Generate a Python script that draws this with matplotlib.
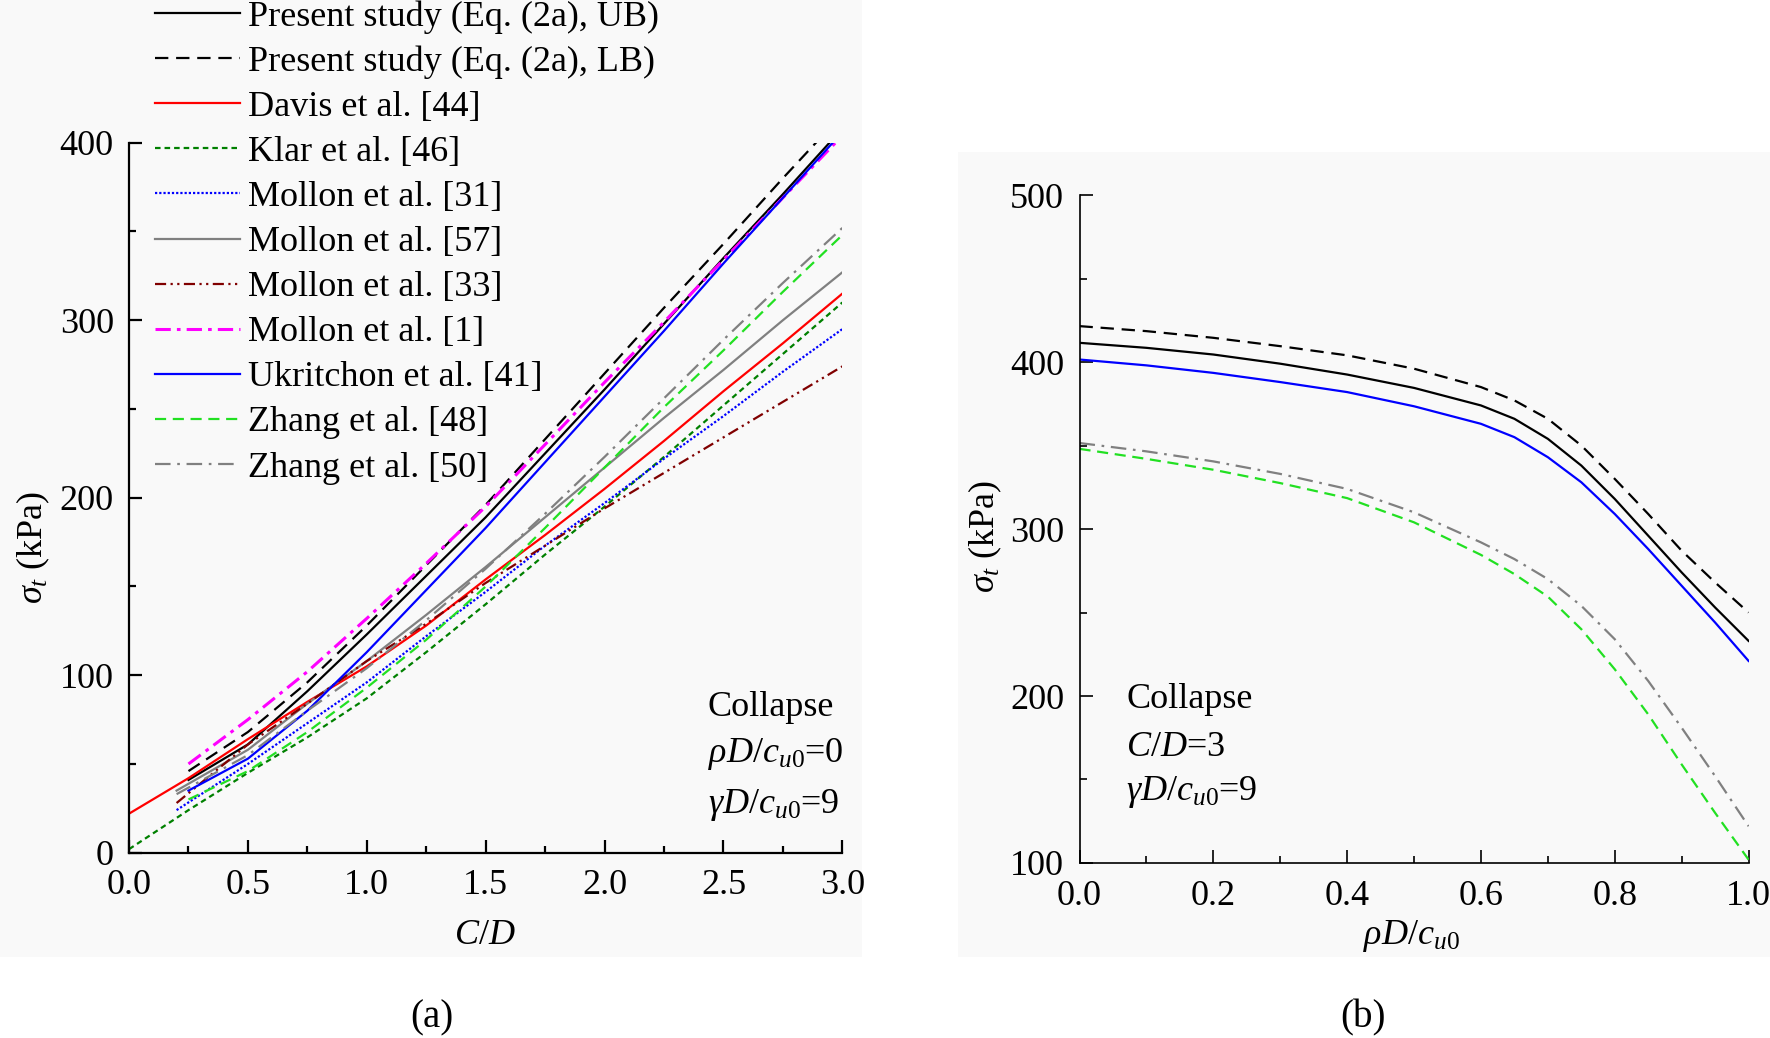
import matplotlib
matplotlib.use('Agg')
import matplotlib.pyplot as plt
from matplotlib.patches import Rectangle
from matplotlib.ticker import MultipleLocator

# --- Style ---
plt.rcParams.update({
    'font.family': 'Liberation Serif',
    'font.size': 26,
    'mathtext.fontset': 'custom',
    'mathtext.rm': 'Liberation Serif',
    'mathtext.it': 'Liberation Serif:italic',
    'mathtext.bf': 'Liberation Serif:bold',
})

# --- Data: panel (a), sigma_t vs C/D ---
cd_0 = [0.0, 0.25, 0.5, 0.75, 1.0, 1.25, 1.5, 1.75, 2.0, 2.25, 2.5, 2.75, 3.0]
cd_025 = [0.25, 0.5, 0.75, 1.0, 1.25, 1.5, 1.75, 2.0, 2.25, 2.5, 2.75, 3.0]
cd_02 = [0.2, 0.5, 0.75, 1.0, 1.25, 1.5, 1.75, 2.0, 2.25, 2.5, 2.75, 3.0]

ub_a = [41, 61, 91, 123, 156, 189, 225, 261, 298, 335, 371, 408]
lb_a = [46, 68, 96, 128, 162, 196, 233, 270, 307, 343, 380, 416]
davis44 = [22, 42, 64, 85, 105, 128, 154, 179, 205, 232, 260, 287, 315]
klar46 = [2, 24, 45, 65, 87, 113, 140, 168, 195, 223, 252, 281, 310]
mollon31 = [24, 50, 73, 96, 122, 147, 173, 197, 222, 246, 271, 295]
mollon57 = [35, 58, 84, 108, 134, 161, 189, 217, 245, 272, 300, 327]
mollon33 = [28, 61, 84, 108, 129, 152, 173, 194, 214, 234, 254, 274]
mollon1 = [50, 75, 102, 132, 163, 195, 230, 265, 299, 334, 369, 404]
ukritchon41 = [35, 53, 80, 113, 148, 183, 220, 257, 294, 332, 369, 406]
zhang48_a = [30, 46, 68, 93, 120, 150, 183, 217, 251, 283, 316, 348]
zhang50_a = [33, 55, 80, 104, 131, 160, 191, 223, 256, 289, 321, 352]

# --- Data: panel (b), sigma_t vs rhoD/cu0 ---
rho = [0.0, 0.1, 0.2, 0.3, 0.4, 0.5, 0.6, 0.65, 0.7, 0.75, 0.8, 0.85, 0.9, 0.95, 1.0]
ub_b = [411.5, 408.5, 404.5, 399, 392.5, 384.5, 374, 366, 354, 338, 318, 296, 274, 253, 233]
lb_b = [421.5, 418.5, 414.5, 409.5, 404, 396, 385, 377, 366, 350, 330, 309, 287, 268, 250]
ukritchon_b = [401.5, 398, 393.5, 388, 382, 373.5, 363, 355, 343, 328, 309, 288, 266, 244, 221]
zhang50_b = [351.5, 346.5, 340.5, 333, 324, 310, 292, 282, 270, 254, 234, 209, 181, 152, 122]
zhang48_b = [348, 342, 335.5, 327.5, 318.5, 304, 284.5, 273, 259.5, 240, 216, 189, 159, 130, 102]

LW = 1.6
CU0 = r'c_{\mathit{u0}}'


def style_axes(ax, spine_w):
    for s in ['top', 'right']:
        ax.spines[s].set_visible(False)
    for s in ['left', 'bottom']:
        ax.spines[s].set_linewidth(spine_w)
    ax.set_facecolor('none')
    ax.tick_params(which='both', direction='in', width=spine_w, labelsize=26)
    ax.tick_params(which='major', length=9.5)
    ax.tick_params(which='minor', length=5)
    ax.tick_params(axis='y', which='both', pad=11)
    ax.tick_params(axis='x', which='both', pad=12)


fig = plt.figure(figsize=(17.7, 10.38), dpi=100)

# faint panel backgrounds
fig.add_artist(Rectangle((0, 0.078), 0.487, 0.922, transform=fig.transFigure,
                         facecolor='#f9f9f9', edgecolor='none', zorder=-10))
fig.add_artist(Rectangle((0.541, 0.078), 0.459, 0.776, transform=fig.transFigure,
                         facecolor='#f9f9f9', edgecolor='none', zorder=-10))

# --- Panel (a) ---
ax1 = fig.add_axes([0.0729, 0.1785, 0.403, 0.684])
style_axes(ax1, 1.6)

lines = []
lines += ax1.plot(cd_025, ub_a, color='black', lw=LW, label='Present study (Eq. (2a), UB)')
lines += ax1.plot(cd_025, lb_a, color='black', lw=LW, dashes=(6, 3.5),
                  label='Present study (Eq. (2a), LB)')
lines += ax1.plot(cd_0, davis44, color='#ff0000', lw=LW, label='Davis et al. [44]')
lines += ax1.plot(cd_0, klar46, color='#008000', lw=LW, dashes=(2.5, 1.8), label='Klar et al. [46]')
lines += ax1.plot(cd_02, mollon31, color='#0000ff', lw=LW, dashes=(1, 0.9), label='Mollon et al. [31]')
lines += ax1.plot(cd_02, mollon57, color='#808080', lw=LW, label='Mollon et al. [57]')
lines += ax1.plot(cd_02, mollon33, color='#800000', lw=LW, dashes=(5, 2, 1, 2, 1, 2),
                  label='Mollon et al. [33]')
lines += ax1.plot(cd_025, mollon1, color='#ff00ff', lw=2.2, dashes=(5, 2, 1.2, 2),
                  label='Mollon et al. [1]')
lines += ax1.plot(cd_025, ukritchon41, color='#0000ff', lw=LW, label='Ukritchon et al. [41]')
lines += ax1.plot(cd_025, zhang48_a, color='#22e022', lw=LW, dashes=(5, 3), label='Zhang et al. [48]')
lines += ax1.plot(cd_02, zhang50_a, color='#808080', lw=LW, dashes=(7, 3, 1.2, 3),
                  label='Zhang et al. [50]')

ax1.set_xlim(0, 3.0)
ax1.set_ylim(0, 400)
ax1.xaxis.set_major_locator(MultipleLocator(0.5))
ax1.xaxis.set_minor_locator(MultipleLocator(0.25))
ax1.yaxis.set_major_locator(MultipleLocator(100))
ax1.yaxis.set_minor_locator(MultipleLocator(50))
ax1.set_xticklabels([f'{v:.1f}' for v in ax1.get_xticks()])

ax1.text(0.811, 0.205, 'Collapse', transform=ax1.transAxes, ha='left', va='center', fontsize=26)
ax1.text(0.811, 0.139, rf'$\rho D/{CU0}$=0', transform=ax1.transAxes, ha='left', va='center',
         fontsize=26)
ax1.text(0.811, 0.067, rf'$\gamma D/{CU0}$=9', transform=ax1.transAxes, ha='left', va='center',
         fontsize=26)

fig.legend(handles=lines, loc='upper left', bbox_to_anchor=(0.0874, 1.0), frameon=False,
           fontsize=26, handlelength=2.35, handletextpad=0.22, labelspacing=0.327,
           borderpad=0.0, borderaxespad=0.0)

fig.text(33 / 1770, 1 - 547 / 1038, r'$\sigma_t$ (kPa)', rotation=90, ha='center', va='center',
         fontsize=26)
fig.text(485 / 1770, 1 - 936 / 1038, r'$C/D$', ha='center', va='center', fontsize=26)
fig.text(432 / 1770, 1 - 1018 / 1038, '(a)', ha='center', va='center', fontsize=28)

# --- Panel (b) ---
ax2 = fig.add_axes([0.6099, 0.1686, 0.378, 0.6435])
style_axes(ax2, 1.2)

ax2.plot(rho, lb_b, color='black', lw=LW, dashes=(6, 3.5))
ax2.plot(rho, ub_b, color='black', lw=LW)
ax2.plot(rho, ukritchon_b, color='#0000ff', lw=LW)
ax2.plot(rho, zhang50_b, color='#808080', lw=LW, dashes=(7, 3, 1.2, 3))
ax2.plot(rho, zhang48_b, color='#22e022', lw=LW, dashes=(5, 3))

ax2.set_xlim(0, 1.0)
ax2.set_ylim(100, 500)
ax2.xaxis.set_major_locator(MultipleLocator(0.2))
ax2.xaxis.set_minor_locator(MultipleLocator(0.1))
ax2.yaxis.set_major_locator(MultipleLocator(100))
ax2.yaxis.set_minor_locator(MultipleLocator(50))
ax2.set_xticklabels([f'{v:.1f}' for v in ax2.get_xticks()])

ax2.text(0.07, 0.2445, 'Collapse', transform=ax2.transAxes, ha='left', va='center', fontsize=26)
ax2.text(0.07, 0.173, r'$C/D$=3', transform=ax2.transAxes, ha='left', va='center', fontsize=26)
ax2.text(0.07, 0.1065, rf'$\gamma D/{CU0}$=9', transform=ax2.transAxes, ha='left', va='center',
         fontsize=26)

fig.text(985 / 1770, 1 - 536 / 1038, r'$\sigma_t$ (kPa)', rotation=90, ha='center', va='center',
         fontsize=26)
fig.text(1411 / 1770, 1 - 936 / 1038, rf'$\rho D/{CU0}$', ha='center', va='center', fontsize=26)
fig.text(1363 / 1770, 1 - 1018 / 1038, '(b)', ha='center', va='center', fontsize=28)

fig.savefig('out.png', dpi=100)
